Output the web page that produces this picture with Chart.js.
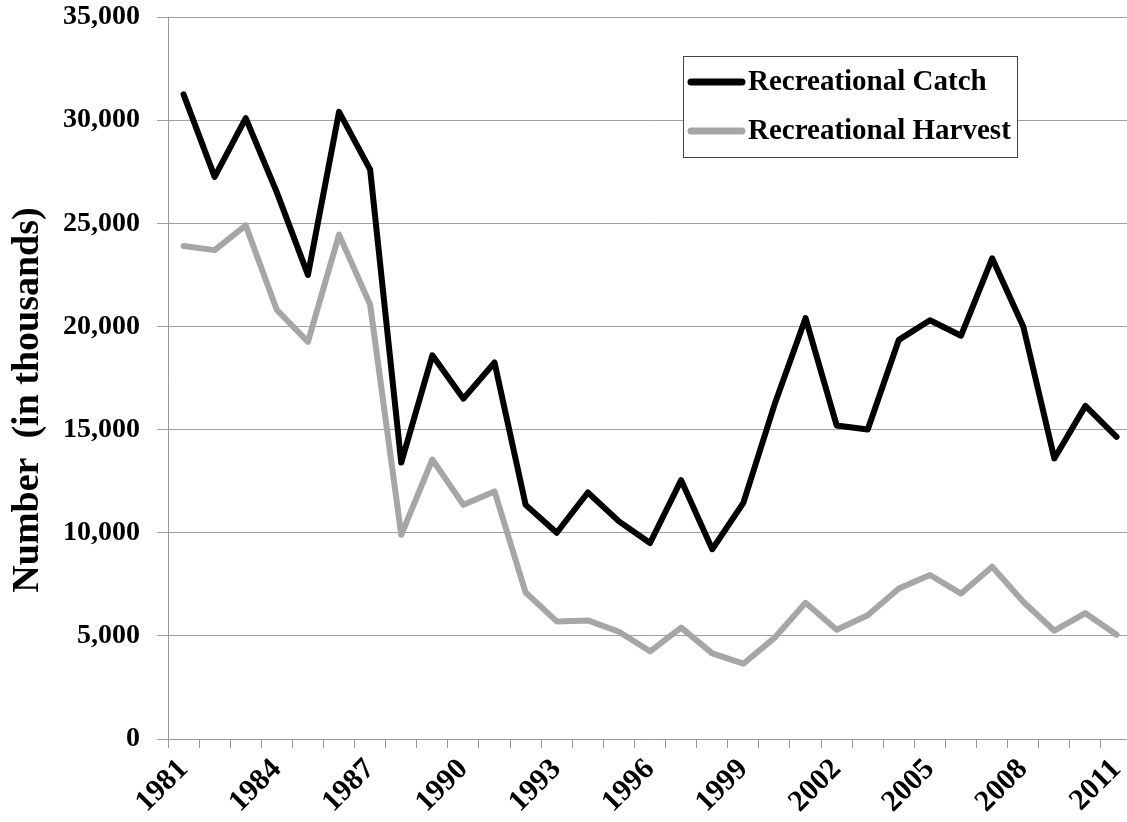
<!DOCTYPE html>
<html>
<head>
<meta charset="utf-8">
<script src="https://cdn.jsdelivr.net/npm/chart.js@4.4.0/dist/chart.umd.min.js"></script>
<style>
  html, body { margin: 0; padding: 0; background: #fff; overflow: hidden; }
  #wrap { width: 1146px; height: 822px; position: relative; }
</style>
</head>
<body>
<div id="wrap"><canvas id="catchChart"></canvas></div>
<script>
// data (numbers in thousands)
const years = ['1981', '1982', '1983', '1984', '1985', '1986', '1987', '1988', '1989', '1990',
               '1991', '1992', '1993', '1994', '1995', '1996', '1997', '1998', '1999', '2000',
               '2001', '2002', '2003', '2004', '2005', '2006', '2007', '2008', '2009', '2010', '2011'];
const catchValues = [31250, 27250, 30100, 26500, 22500, 30400, 27600, 13400, 18600, 16500,
                     18250, 11350, 10000, 11950, 10550, 9500, 12550, 9200, 11450, 16200,
                     20400, 15200, 15000, 19350, 20300, 19550, 23300, 20000, 13600, 16150, 14650];
const harvestValues = [23900, 23700, 24900, 20800, 19250, 24450, 21050, 9900, 13550, 11350,
                       12000, 7100, 5700, 5750, 5200, 4250, 5400, 4150, 3650, 4900,
                       6600, 5300, 6000, 7300, 7950, 7050, 8350, 6650, 5250, 6100, 5050];
const yMin = 0;
const yMax = 35000;
const yStep = 5000;
const yTitle = 'Number  (in thousands)';

const serif = "'Liberation Serif', 'Times New Roman', serif";

// legend box inside the plot and the rotated y title, placed like the original
const boxLegend = {
    id: 'boxLegend',
    afterDatasetsDraw(chart) {
        const ctx = chart.ctx;
        const area = chart.chartArea;
        const x = area.left + 515, y = area.top + 39, w = 334, h = 101;
        ctx.save();
        ctx.fillStyle = '#fff';
        ctx.fillRect(x, y, w, h);
        ctx.strokeStyle = '#444';
        ctx.lineWidth = 1;
        ctx.strokeRect(x + 0.5, y + 0.5, w, h);
        ctx.font = 'bold 29px ' + serif;
        ctx.textBaseline = 'middle';
        ctx.lineCap = 'round';
        chart.data.datasets.forEach((ds, i) => {
            const ry = y + 26 + i * 49;
            ctx.strokeStyle = ds.borderColor;
            ctx.lineWidth = 7;
            ctx.beginPath();
            ctx.moveTo(x + 8, ry);
            ctx.lineTo(x + 59, ry);
            ctx.stroke();
            ctx.fillStyle = '#000';
            ctx.fillText(ds.label, x + 65, ry + 1);
        });

        // y axis title
        ctx.translate(28, (area.top + area.bottom) / 2 + 22);
        ctx.rotate(-Math.PI / 2);
        ctx.font = 'bold 38px ' + serif;
        ctx.textAlign = 'center';
        ctx.textBaseline = 'middle';
        ctx.fillStyle = '#000';
        ctx.fillText(yTitle, 0, 0);
        ctx.restore();
    }
};

const ctx = document.getElementById('catchChart').getContext('2d');
const catchChart = new Chart(ctx, {
    type: 'line',
    data: {
        labels: years,
        datasets: [{
            label: 'Recreational Catch',
            data: catchValues,
            borderColor: '#000000',
            borderWidth: 6,
            pointRadius: 0,
            tension: 0,
            borderJoinStyle: 'round',
            borderCapStyle: 'round'
        }, {
            label: 'Recreational Harvest',
            data: harvestValues,
            borderColor: '#a6a6a6',
            borderWidth: 6,
            pointRadius: 0,
            tension: 0,
            borderJoinStyle: 'round',
            borderCapStyle: 'round'
        }]
    },
    options: {
        responsive: true,
        maintainAspectRatio: false,
        animation: false,
        layout: { padding: { top: 17, left: 0, right: 0, bottom: 0 } },
        plugins: {
            legend: { display: false },
            tooltip: { enabled: false }
        },
        scales: {
            x: {
                type: 'category',
                offset: true,
                afterFit: (scale) => { scale.height = 83; },
                grid: { offset: true, drawOnChartArea: false, drawTicks: true, tickLength: 9, color: '#999' },
                border: { color: '#999', width: 1 },
                ticks: {
                    autoSkip: false,
                    maxRotation: 45,
                    minRotation: 45,
                    padding: 4,
                    color: '#000',
                    font: { family: serif, size: 30, weight: 'bold' },
                    callback: function(value, index) {
                        return index % 3 === 0 ? years[index] : '';
                    }
                }
            },
            y: {
                min: yMin,
                max: yMax,
                afterFit: (scale) => { scale.width = 168; scale.paddingTop = 0; scale.paddingBottom = 0; },
                grid: { color: '#a0a0a0', tickLength: 11, lineWidth: 1 },
                border: { color: '#999', width: 1 },
                ticks: {
                    stepSize: yStep,
                    padding: 17,
                    color: '#000',
                    font: { family: serif, size: 28, weight: 'bold' },
                    callback: (v) => v.toLocaleString('en-US')
                }
            }
        }
    },
    plugins: [boxLegend]
});
</script>
</body>
</html>
